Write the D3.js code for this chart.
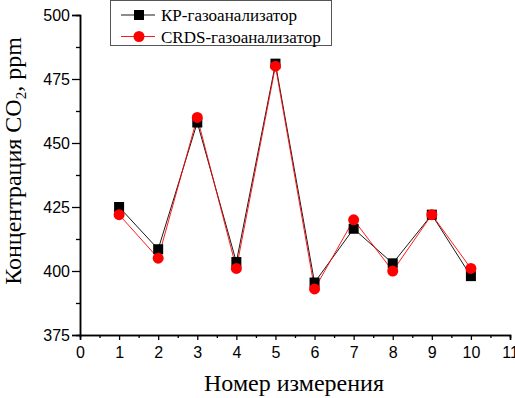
<!DOCTYPE html>
<html>
<head>
<meta charset="utf-8">
<script src="https://cdn.jsdelivr.net/npm/d3@7"></script>
<style>
  body { margin: 0; background: #fff; }
  svg { display: block; }
</style>
</head>
<body>
<div id="wrapper"></div>
<script>
const measurement = [1, 2, 3, 4, 5, 6, 7, 8, 9, 10]
const kpValues = [425, 408.5, 458, 403.5, 481, 395.5, 416.5, 403, 422, 398]
const crdsValues = [422, 405, 460, 401, 480, 393, 420, 400, 422, 401]
const xTicks = [0, 1, 2, 3, 4, 5, 6, 7, 8, 9, 10, 11]
const yTicks = [375, 400, 425, 450, 475, 500]
const legendLabels = ['КР-газоанализатор', 'CRDS-газоанализатор']

function drawChart() {
    let dimensions = {
        width: 515,
        height: 398,
        margin: { top: 15, right: 5, bottom: 63, left: 80 }
    }
    dimensions.boundedWidth = dimensions.width - dimensions.margin.left - dimensions.margin.right
    dimensions.boundedHeight = dimensions.height - dimensions.margin.top - dimensions.margin.bottom

    const svg = d3.select('#wrapper').append('svg')
        .attr('width', dimensions.width)
        .attr('height', dimensions.height)

    const bounds = svg.append('g')
        .attr('transform', `translate(${dimensions.margin.left},${dimensions.margin.top})`)

    const xScale = d3.scaleLinear().domain([0, 11]).range([0, 430])
    const yScale = d3.scaleLinear().domain([375, 500]).range([dimensions.boundedHeight, 0])

    // minor ticks first, then major axes on top
    const xMinor = d3.axisBottom(xScale).tickValues(d3.range(0.5, 11, 1)).tickSize(3).tickFormat('')
    const yMinor = d3.axisLeft(yScale).tickValues(d3.range(387.5, 500, 25)).tickSize(4).tickFormat('')

    const xAxis = d3.axisBottom(xScale).tickValues(xTicks).tickSize(5).tickPadding(7).tickFormat(d3.format('d'))
    const yAxis = d3.axisLeft(yScale).tickValues(yTicks).tickSize(8).tickPadding(2)

    const gxm = bounds.append('g').attr('transform', `translate(0,${dimensions.boundedHeight})`).call(xMinor)
    const gym = bounds.append('g').call(yMinor)
    const gx = bounds.append('g').attr('transform', `translate(0,${dimensions.boundedHeight})`).call(xAxis)
    const gy = bounds.append('g').call(yAxis)

    ;[gxm, gym, gx, gy].forEach(g => {
        g.selectAll('path').attr('stroke', '#000').attr('stroke-width', 1.5)
        g.selectAll('line').attr('stroke', '#000').attr('stroke-width', 1.3)
        g.selectAll('text')
            .attr('fill', '#000')
            .style('font-family', '"Liberation Sans", Arial, sans-serif')
            .style('font-size', '16px')
    })

    // series
    const series = [
        { values: kpValues, color: '#000', shape: 'square' },
        { values: crdsValues, color: '#ff0000', shape: 'circle' }
    ]
    const line = d3.line()
        .x((d, i) => xScale(measurement[i]))
        .y(d => yScale(d))

    series.forEach(s => {
        bounds.append('path')
            .datum(s.values)
            .attr('d', line)
            .attr('fill', 'none')
            .attr('stroke', s.color)
            .attr('stroke-width', 0.9)
    })
    series.forEach(s => {
        const g = bounds.append('g')
        if (s.shape === 'square') {
            g.selectAll('rect').data(s.values).enter().append('rect')
                .attr('x', (d, i) => xScale(measurement[i]) - 5)
                .attr('y', d => yScale(d) - 5)
                .attr('width', 10)
                .attr('height', 10)
                .attr('fill', s.color)
        } else {
            g.selectAll('circle').data(s.values).enter().append('circle')
                .attr('cx', (d, i) => xScale(measurement[i]))
                .attr('cy', d => yScale(d))
                .attr('r', 5.5)
                .attr('fill', s.color)
        }
    })

    // legend
    const legend = svg.append('g')
    legend.append('rect')
        .attr('x', 110.5).attr('y', 0.5)
        .attr('width', 221).attr('height', 45)
        .attr('fill', '#fff')
        .attr('stroke', '#555')
        .attr('stroke-width', 1)
    legendLabels.forEach((label, i) => {
        const cy = 15 + i * 21.5
        const s = series[i]
        legend.append('line')
            .attr('x1', 121).attr('x2', 155)
            .attr('y1', cy).attr('y2', cy)
            .attr('stroke', s.color).attr('stroke-width', 0.9)
        if (s.shape === 'square') {
            legend.append('rect').attr('x', 134).attr('y', cy - 5)
                .attr('width', 10).attr('height', 10).attr('fill', s.color)
        } else {
            legend.append('circle').attr('cx', 139).attr('cy', cy)
                .attr('r', 5.5).attr('fill', s.color)
        }
        legend.append('text')
            .attr('x', 161).attr('y', cy + 6)
            .style('font-family', '"Liberation Serif", "Times New Roman", serif')
            .style('font-size', '17px')
            .text(label)
    })

    // axis titles
    svg.append('text')
        .attr('x', 294).attr('y', 391)
        .attr('text-anchor', 'middle')
        .style('font-family', '"Liberation Serif", "Times New Roman", serif')
        .style('font-size', '24px')
        .text('Номер измерения')

    const yTitle = svg.append('text')
        .attr('transform', 'translate(21,161) rotate(-90)')
        .attr('text-anchor', 'middle')
        .style('font-family', '"Liberation Serif", "Times New Roman", serif')
        .style('font-size', '24px')
    yTitle.append('tspan').text('Концентрация CO')
    yTitle.append('tspan').attr('dy', 5).style('font-size', '15px').text('2')
    yTitle.append('tspan').attr('dy', -5).text(', ppm')
}

drawChart()
</script>
</body>
</html>
